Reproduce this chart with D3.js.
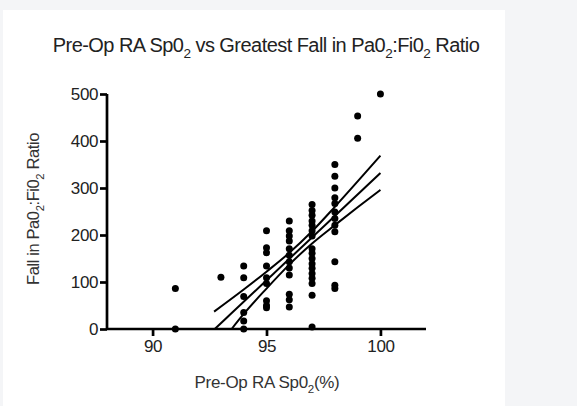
<!DOCTYPE html>
<html><head><meta charset="utf-8">
<script src="https://cdn.jsdelivr.net/npm/d3@7"></script>
<style>body{margin:0;background:#f4f5f7;}svg{display:block;}</style>
</head><body>
<svg id="c" width="577" height="406"></svg>
<script>
// Data
const spo2 = [91,91,93,
  94,94,94,94,94,94,
  95,95,95,95,95,95,95,95,95,
  96,96,96,96,96,96,96,96,96,96,96,96,
  97,97,97,97,97,97,97,97,97,97,97,97,97,97,97,97,97,
  98,98,98,98,98,98,98,98,98,98,98,98,
  99,99,100];
const fall = [86,0,110,
  134,109,69,35,17,0,
  209,173,162,134,109,97,60,50,45,
  230,209,198,187,171,157,143,130,115,74,62,47,
  265,252,242,230,221,209,198,171,161,150,139,129,118,108,97,72,4,
  350,325,300,279,267,249,235,221,207,143,93,86,
  453,406,500];
// regression fit line and 95% confidence bands
const fitX = [92.73, 100];
const fitY = [0, 332];
const upperX = [92.7, 94, 95, 96, 97, 98, 99, 100];
const upperY = [37, 84, 122, 162, 208, 260, 314, 369];
const lowerX = [93.47, 94, 95, 96, 97, 98, 99, 100];
const lowerY = [0, 32, 86, 137, 182, 221, 259, 296];
const xTicks = [90, 95, 100];
const yTicks = [0, 100, 200, 300, 400, 500];

const svg = d3.select("#c");
const FONT = "'Liberation Sans', Arial, sans-serif";
svg.append("rect").attr("x",3).attr("y",10).attr("width",502).attr("height",396).attr("fill","#ffffff");

const x = d3.scaleLinear().domain([88,102]).range([107,426]);
const y = d3.scaleLinear().domain([0,500]).range([329,94]);

function subText(g, parts, size){
  const t = g.append("text").attr("font-family",FONT).attr("font-size",size).attr("fill","#222");
  parts.forEach(p=>{
    if(p.sub){
      t.append("tspan").attr("font-size",size*0.68).attr("dy",size*0.3).text(p.t);
    } else {
      const ts = t.append("tspan").text(p.t);
      if(p.after) ts.attr("dy",-size*0.3);
    }
  });
  return t;
}
function parse(str){
  const out=[]; let prevSub=false;
  str.split(/(_2)/).forEach(s=>{
    if(s==="") return;
    if(s==="_2"){out.push({t:"2",sub:true});prevSub=true;}
    else {out.push({t:s,after:prevSub});prevSub=false;}
  });
  return out;
}

// Title
subText(svg, parse("Pre-Op RA Sp0_2 vs Greatest Fall in Pa0_2:Fi0_2 Ratio"), 20)
  .attr("x",266).attr("y",52).attr("text-anchor","middle").attr("letter-spacing","-0.55");

// Axes
const xAxis = svg.append("g").attr("transform","translate(0,"+y(0)+")")
  .call(d3.axisBottom(x).tickValues(xTicks).tickSize(7).tickPadding(4).tickFormat(d3.format("d")));
const yAxis = svg.append("g").attr("transform","translate("+x(88)+",0)")
  .call(d3.axisLeft(y).tickValues(yTicks).tickSize(7).tickPadding(2).tickFormat(d3.format("d")));
[xAxis,yAxis].forEach(a=>{
  a.select(".domain").attr("stroke","#000").attr("stroke-width",2.7);
  a.selectAll(".tick line").attr("stroke","#000").attr("stroke-width",2.7);
  a.selectAll(".tick text").attr("font-family",FONT).attr("font-size",17).attr("fill","#222").attr("letter-spacing","-0.4");
});
xAxis.select(".domain").attr("d","M"+x(88)+",0H"+x(102));
yAxis.select(".domain").attr("d","M0,"+y(0)+"V"+y(500));

// Axis titles
subText(svg, parse("Pre-Op RA Sp0_2(%)"), 17)
  .attr("x",267).attr("y",388).attr("text-anchor","middle").attr("letter-spacing","-0.3").attr("fill","#333");
subText(svg, parse("Fall in Pa0_2:Fi0_2 Ratio"), 16.5)
  .attr("text-anchor","middle").attr("letter-spacing","-0.4").attr("fill","#333")
  .attr("transform","translate(39,209) rotate(-90)");

// Lines
const line = d3.line().x(d=>x(d[0])).y(d=>y(d[1])).curve(d3.curveMonotoneX);
[[fitX,fitY],[upperX,upperY],[lowerX,lowerY]].forEach(([xs,ys])=>{
  svg.append("path").datum(xs.map((v,i)=>[v,ys[i]])).attr("d",line)
    .attr("fill","none").attr("stroke","#000").attr("stroke-width",2);
});

// Points
svg.append("g").selectAll("circle").data(spo2.map((v,i)=>[v,fall[i]])).join("circle")
  .attr("cx",d=>x(d[0])).attr("cy",d=>y(d[1])).attr("r",3.5).attr("fill","#000");
</script>
</body></html>
